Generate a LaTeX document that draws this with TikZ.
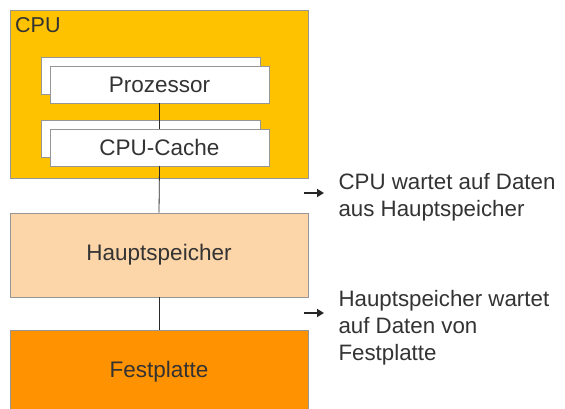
\documentclass[tikz,border=0pt]{standalone}
\usepackage{fontspec}
\setmainfont{Liberation Sans}
\usetikzlibrary{arrows.meta}
\definecolor{cpuGold}{RGB}{255,194,0}
\definecolor{ramPeach}{RGB}{252,213,168}
\definecolor{diskOrange}{RGB}{255,146,0}
\definecolor{frameGray}{RGB}{150,150,150}
\definecolor{textGray}{RGB}{51,51,51}
\tikzset{
  block/.style={draw=frameGray,line width=0.6pt,minimum width=298pt,inner sep=0pt,text=textGray},
  card/.style={draw=frameGray,fill=white,line width=0.5pt,minimum width=219pt,minimum height=37pt,inner sep=0pt,text=textGray},
  link/.style={line width=0.8pt,textGray!80!black},
  pfeil/.style={line width=2.2pt,black!85,-{Triangle[length=7pt,width=8pt]}},
  note/.style={anchor=west,align=left,text=textGray,font=\fontsize{22.3}{27}\selectfont}
}
\begin{document}
\begin{tikzpicture}[x=1pt,y=-1pt,font=\fontsize{22.5}{24}\selectfont]
\useasboundingbox[fill=white] (0,0) rectangle (565,409);
% CPU
\node[block,fill=cpuGold,minimum height=168pt] (cpu) at (159,94) {};
\node[anchor=north west,inner sep=0pt,text=textGray,font=\fontsize{21.5}{24}\selectfont] (cpulabel) at (15,17) {CPU};
\node[card] (procback) at (150.5,75.5) {};
\node[card] (proc) at (159.5,84.5) {Prozessor};
\node[card] (cacheback) at (150.5,138.5) {};
\node[card] (cache) at (159.5,147.5) {CPU-Cache};
% Speicher
\node[block,fill=ramPeach,minimum height=84pt] (ram) at (159,255) {Hauptspeicher};
\node[block,fill=diskOrange,minimum height=84pt] (disk) at (159,372) {Festplatte};
% Verbindungen
\draw[link] (proc.south) -- (cache.north);
\draw[link] (cache.south) -- (ram.north);
\draw[link] (ram.south) -- (disk.north);
% Hinweise
\node[note] (wait1) at (335,197) {CPU wartet auf Daten\\aus Hauptspeicher};
\node[note] (wait2) at (335,328) {Hauptspeicher wartet\\auf Daten von\\Festplatte};
\coordinate (p1) at (304,193);
\coordinate (p2) at (304,313);
\draw[pfeil] (p1) -- ++(20,0);
\draw[pfeil] (p2) -- ++(20,0);
\end{tikzpicture}
\end{document}
